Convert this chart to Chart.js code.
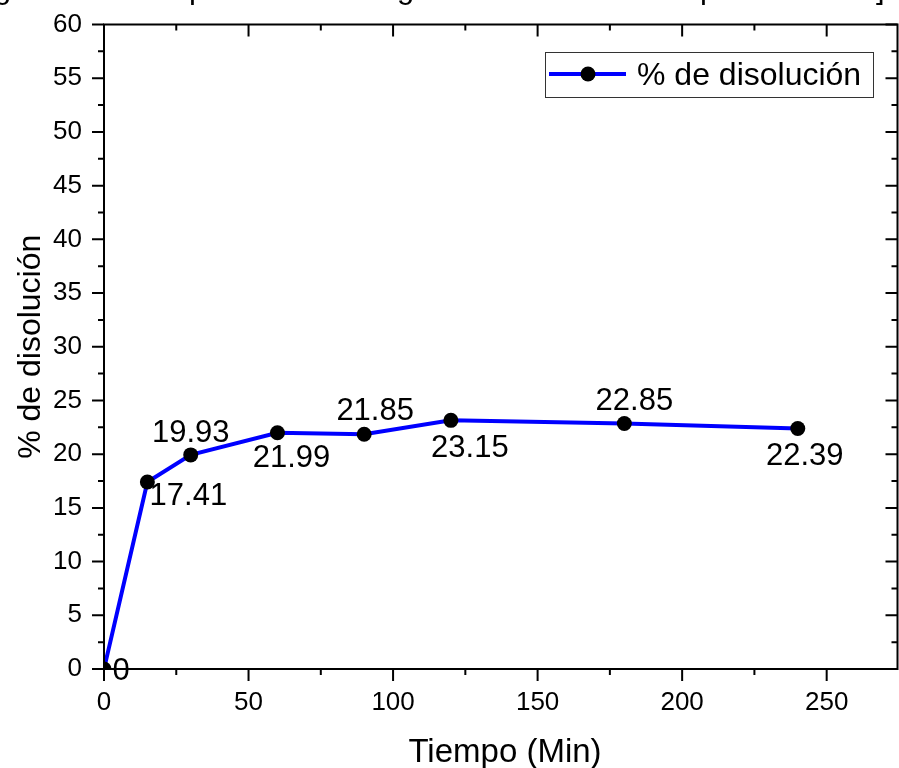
<!DOCTYPE html>
<html>
<head>
<meta charset="utf-8">
<script src="https://cdn.jsdelivr.net/npm/chart.js@4"></script>
<style>
  html, body { margin: 0; padding: 0; background: #fff; overflow: hidden; }
  canvas { display: block; }
</style>
</head>
<body>
<canvas id="chart-disolucion" width="905" height="768" style="width:905px;height:768px"></canvas>
<script>
// Datos de la curva de disolución
const TIEMPO     = [0, 15, 30, 60, 90, 120, 180, 240];
const DISOLUCION = [0, 17.41, 19.93, 21.99, 21.85, 23.15, 22.85, 22.39];
const X_TICKS    = [0, 50, 100, 150, 200, 250];
const Y_TICKS    = [0, 5, 10, 15, 20, 25, 30, 35, 40, 45, 50, 55, 60];
const SERIE      = '% de disolución';
const X_TITULO   = 'Tiempo (Min)';
const Y_TITULO   = '% de disolución';

// desplazamiento (px) de cada etiqueta respecto a su punto
const LABEL_OFFSETS = [[17, 0], [41, 12], [0, -24], [14, 23], [11, -25], [19, 26], [10, -25], [7, 25]];

// restos del título que queda cortado arriba
const TITLE_BITS = [['g', -6], ['p', 189], ['g', 397], ['p', 700], [']', 876]];

const FONT = "'Liberation Sans', Arial, sans-serif";
const INK  = '#000';

function minors(majors, max) {
  const out = [];
  for (let i = 0; i < majors.length; i++) {
    const step = i + 1 < majors.length ? majors[i + 1] - majors[i] : majors[i] - majors[i - 1];
    const m = majors[i] + step / 2;
    if (m <= max) out.push(m);
  }
  return out;
}

// marco de 4 lados con ticks: abajo/izquierda hacia fuera, arriba/derecha hacia dentro
const framePlugin = {
  id: 'frame',
  afterDatasetsDraw(chart) {
    const { ctx, chartArea: a, scales: { x, y } } = chart;
    const MAJ = 12, MIN = 6;
    ctx.save();
    ctx.strokeStyle = INK;
    ctx.lineWidth = 2;
    ctx.lineCap = 'butt';
    ctx.strokeRect(a.left, a.top, a.right - a.left, a.bottom - a.top);
    ctx.beginPath();
    const xt = (v, len) => {
      const px = x.getPixelForValue(v);
      ctx.moveTo(px, a.bottom); ctx.lineTo(px, a.bottom + len);
      ctx.moveTo(px, a.top);    ctx.lineTo(px, a.top + len);
    };
    const yt = (v, len) => {
      const py = y.getPixelForValue(v);
      ctx.moveTo(a.left, py);  ctx.lineTo(a.left - len, py);
      ctx.moveTo(a.right, py); ctx.lineTo(a.right - len, py);
    };
    X_TICKS.forEach(v => xt(v, MAJ));
    minors(X_TICKS, x.max).forEach(v => xt(v, MIN));
    Y_TICKS.forEach(v => yt(v, MAJ));
    minors(Y_TICKS, y.max).forEach(v => yt(v, MIN));
    ctx.stroke();
    ctx.restore();
  }
};

// valor escrito junto a cada punto
const labelsPlugin = {
  id: 'pointLabels',
  afterDatasetsDraw(chart) {
    const { ctx } = chart;
    const meta = chart.getDatasetMeta(0);
    const size = 31;
    ctx.save();
    ctx.font = size + 'px ' + FONT;
    ctx.fillStyle = INK;
    ctx.textAlign = 'center';
    ctx.textBaseline = 'alphabetic';
    meta.data.forEach((pt, i) => {
      const v = DISOLUCION[i];
      const txt = v === 0 ? '0' : v.toFixed(2);
      const [dx, dy] = LABEL_OFFSETS[i];
      ctx.fillText(txt, pt.x + dx, pt.y + dy + size * 0.358);
    });
    ctx.restore();
  }
};

// leyenda con caja dentro del área
const legendPlugin = {
  id: 'boxLegend',
  afterDraw(chart) {
    const { ctx } = chart;
    const ds = chart.data.datasets[0];
    ctx.save();
    ctx.fillStyle = '#fff';
    ctx.fillRect(545, 52, 328, 45);
    ctx.strokeStyle = '#333';
    ctx.lineWidth = 1;
    ctx.strokeRect(545.5, 52.5, 328, 45);
    ctx.strokeStyle = ds.borderColor;
    ctx.lineWidth = ds.borderWidth;
    ctx.beginPath();
    ctx.moveTo(549, 74); ctx.lineTo(626, 74);
    ctx.stroke();
    ctx.fillStyle = ds.pointBackgroundColor;
    ctx.beginPath();
    ctx.arc(588, 74, ds.pointRadius, 0, Math.PI * 2);
    ctx.fill();
    ctx.fillStyle = INK;
    ctx.font = '32px ' + FONT;
    ctx.textAlign = 'left';
    ctx.textBaseline = 'alphabetic';
    ctx.fillText(ds.label, 637, 85);
    ctx.restore();
  }
};

// títulos de ejes y restos del título superior
const titlesPlugin = {
  id: 'titles',
  afterDraw(chart) {
    const { ctx, chartArea: a } = chart;
    ctx.save();
    ctx.fillStyle = INK;
    ctx.textBaseline = 'alphabetic';
    ctx.textAlign = 'center';
    ctx.font = '33px ' + FONT;
    ctx.fillText(X_TITULO, 505, 762);
    ctx.save();
    ctx.translate(40, (a.top + a.bottom) / 2);
    ctx.rotate(-Math.PI / 2);
    ctx.font = '32px ' + FONT;
    ctx.fillText(Y_TITULO, 0, 0);
    ctx.restore();
    ctx.textAlign = 'left';
    ctx.font = '31px ' + FONT;
    TITLE_BITS.forEach(([c, px]) => ctx.fillText(c, px, -2));
    ctx.restore();
  }
};

const tickFont = { family: FONT, size: 26 };

new Chart(document.getElementById('chart-disolucion').getContext('2d'), {
  type: 'line',
  data: {
    datasets: [{
      label: SERIE,
      data: TIEMPO.map((t, i) => ({ x: t, y: DISOLUCION[i] })),
      borderColor: '#0000ff',
      borderWidth: 4,
      pointRadius: 7.5,
      pointHoverRadius: 7.5,
      pointBackgroundColor: '#000',
      pointBorderWidth: 0,
      tension: 0,
      clip: 0
    }]
  },
  options: {
    responsive: false,
    animation: false,
    devicePixelRatio: 1,
    layout: { padding: { top: 24.5, right: 3, bottom: 0, left: 0 } },
    plugins: { legend: { display: false }, tooltip: { enabled: false } },
    scales: {
      x: {
        type: 'linear', min: 0, max: 274.5,
        afterBuildTicks: s => { s.ticks = X_TICKS.map(v => ({ value: v })); },
        afterFit: s => { s.height = 99; s.paddingLeft = 0; s.paddingRight = 0; },
        grid: { display: false },
        border: { display: false },
        ticks: { font: tickFont, color: INK, padding: 10, maxRotation: 0, autoSkip: false }
      },
      y: {
        type: 'linear', min: 0, max: 60,
        afterBuildTicks: s => { s.ticks = Y_TICKS.map(v => ({ value: v })); },
        afterFit: s => { s.width = 104; s.paddingTop = 0; s.paddingBottom = 0; },
        grid: { display: false },
        border: { display: false },
        ticks: { font: tickFont, color: INK, padding: 14, autoSkip: false }
      }
    }
  },
  plugins: [framePlugin, labelsPlugin, legendPlugin, titlesPlugin]
});
</script>
</body>
</html>
